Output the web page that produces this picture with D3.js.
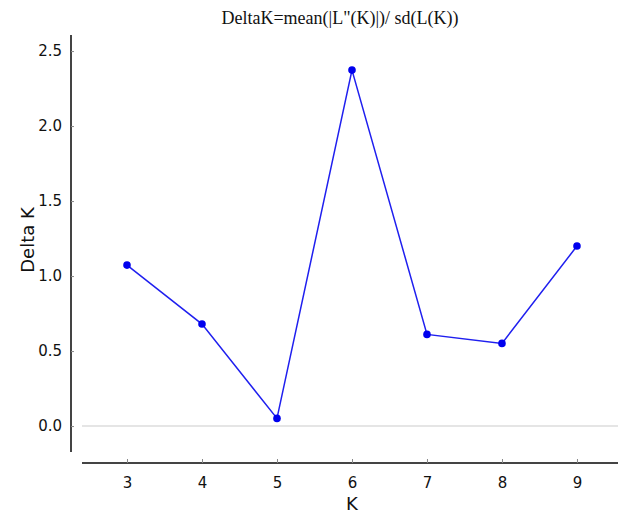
<!DOCTYPE html>
<html><head><meta charset="utf-8">
<script src="https://cdn.jsdelivr.net/npm/d3@7"></script>
<style>body{margin:0;background:#fff;}svg{display:block;}</style>
</head><body>
<svg id="c" width="618" height="514"></svg>
<script>
const kValues = [3, 4, 5, 6, 7, 8, 9];
const deltaK = [1.073, 0.68, 0.051, 2.373, 0.611, 0.551, 1.2];
const yTicks = [0.0, 0.5, 1.0, 1.5, 2.0, 2.5];
const titleText = 'DeltaK=mean(|L"(K)|)/ sd(L(K))';
const xLabel = "K";
const yLabel = "Delta K";

const svg = d3.select("#c");
const x = d3.scaleLinear().domain([2.4, 9.547]).range([82, 618]);
const y = d3.scaleLinear().domain([-0.173, 2.607]).range([452, 35]);

// zero gridline
svg.append("line").attr("x1", x(2.4)).attr("x2", x(9.547))
  .attr("y1", y(0)).attr("y2", y(0))
  .attr("stroke", "#dcdcdc").attr("stroke-width", 1.5);

// y axis
const yAx = svg.append("g").attr("transform", "translate(71,0)")
  .call(d3.axisRight(y).tickValues(yTicks).tickSize(3).tickFormat(d3.format(".1f")));
yAx.select(".domain").attr("stroke", "#444").attr("stroke-width", 2)
  .attr("d", `M0,${y(2.607)}V${y(-0.173)}`);
yAx.selectAll(".tick line").attr("stroke", "#888");
yAx.selectAll(".tick text").attr("x", -9).attr("text-anchor", "end")
  .attr("font-family", "DejaVu Sans").attr("font-size", 15).attr("font-weight", 500).attr("fill", "#111");

// x axis
const xAx = svg.append("g").attr("transform", "translate(0,463)")
  .call(d3.axisBottom(x).tickValues(kValues).tickSize(-4).tickFormat(d3.format("d")));
xAx.select(".domain").attr("stroke", "#444").attr("stroke-width", 2)
  .attr("d", `M${x(2.4)},0H${x(9.547)}`);
xAx.selectAll(".tick line").attr("stroke", "#888");
xAx.selectAll(".tick text").attr("y", 14)
  .attr("font-family", "DejaVu Sans").attr("font-size", 15).attr("font-weight", 500).attr("fill", "#111");

// line
const line = d3.line().x((d, i) => x(kValues[i])).y(d => y(d));
svg.append("path").datum(deltaK).attr("d", line)
  .attr("fill", "none").attr("stroke", "#1f1fef").attr("stroke-width", 1.5);
svg.selectAll("circle.pt").data(deltaK).enter().append("circle")
  .attr("class", "pt").attr("cx", (d, i) => x(kValues[i])).attr("cy", d => y(d))
  .attr("r", 3.8).attr("fill", "#0000ee");

// title
svg.append("text").attr("x", 340).attr("y", 24).attr("text-anchor", "middle")
  .attr("font-family", "Liberation Serif").attr("font-size", 18).attr("fill", "#111")
  .text(titleText);

// axis labels
svg.append("text").attr("x", 352).attr("y", 510).attr("text-anchor", "middle")
  .attr("font-family", "DejaVu Sans").attr("font-size", 18).attr("fill", "#111")
  .text(xLabel);
svg.append("text").attr("transform", "translate(34,240) rotate(-90)")
  .attr("text-anchor", "middle")
  .attr("font-family", "DejaVu Sans").attr("font-size", 18).attr("fill", "#111")
  .text(yLabel);
</script>
</body></html>
